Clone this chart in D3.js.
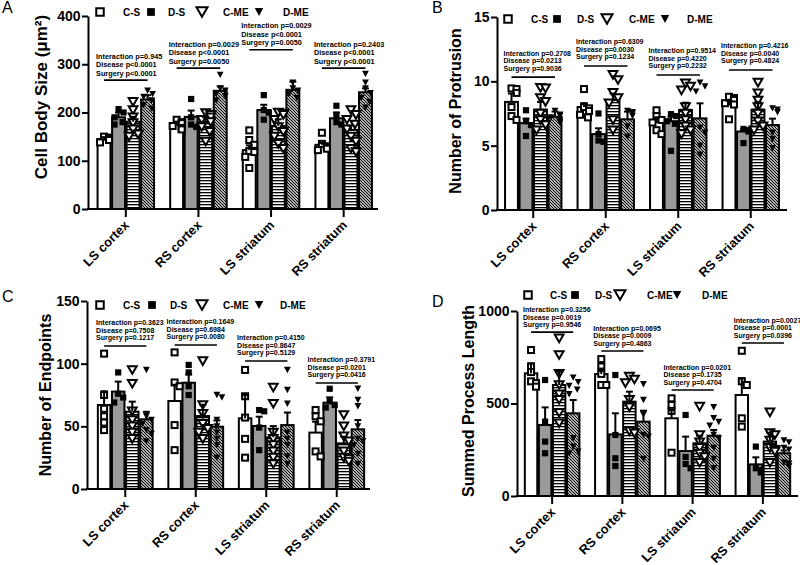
<!DOCTYPE html>
<html><head><meta charset="utf-8">
<script src="https://cdn.jsdelivr.net/npm/d3@7"></script>
<style>body{margin:0;background:#fff} svg{display:block} text{font-family:"Liberation Sans",Arial,sans-serif}</style>
</head><body><svg id="chart" width="800" height="565"></svg>
<script>
const categories = ["LS cortex","RS cortex","LS striatum","RS striatum"];
const groups = ["C-S","D-S","C-ME","D-ME"];

// Panel A: Cell Body Size
const cellBodyTicks = [0,100,200,300,400];
const cellBodyMean = [[145,190,181,227],[175,191,180,245],[122,205,172,247],[133,188,164,242]];
const cellBodySem  = [[4,10,10,9],[6,13,10,9],[10,11,14,17],[4,12,9,8]];
const cellBodyPts = [
  [[138,143,145,148,150],[207,200,190,180,175],[222,205,190,178,165,150,155],[245,238,232,225,215,208]],
  [[185,180,178,172,168,165],[228,190,175,170],[199,195,190,185,180,170,160,140],[278,250,245,238,225,234]],
  [[163,143,133,120,118,108,85],[236,205,200,185],[200,198,195,185,170,160,150,135,125],[262,250,245,238,230]],
  [[158,135,130,128,125,122],[214,195,180,175],[205,195,185,175,165,150,140,125,118],[280,262,250,240,230,222,210]]
];
const cellBodyStats = [["=0.945","<0.0001","<0.0001"],["=0.0029","<0.0001","=0.0050"],["=0.0029","<0.0001","=0.0050"],["=0.2403","<0.0001","<0.0001"]];

// Panel B: Number of Protrusion
const protrusionTicks = [0,5,10,15];
const protrusionMean = [[8.4,6.75,7.8,7.25],[8.0,5.9,8.55,7.05],[6.85,6.9,7.77,7.12],[8.2,6.1,7.8,6.6]];
const protrusionSem  = [[0.65,0.36,0.6,0.4],[0.31,0.45,0.5,0.6],[0.35,0.35,0.57,1.17],[0.3,0.15,0.6,0.5]];
const protrusionPts = [
  [[9.45,9.4,9.1,8.0,7.3,7.0],[7.75,6.9,6.6,5.75],[9.5,9.45,8.7,8.4,7.5,7.0,6.6,6.2],[7.7,7.4,7.3,7.2,7.0,6.8]],
  [[9.4,8.0,7.9,7.7,7.4,7.2],[7.5,5.9,5.4,5.3],[10.5,10.1,9.1,8.7,8.3,7.0,6.2],[7.7,7.6,7.5,7.3,6.5,5.7]],
  [[7.75,7.3,7.0,6.8,6.2,5.9],[7.45,7.3,6.9,6.7,4.6],[9.84,9.6,9.3,8.0,7.5,7.0,6.5,6.2,5.9],[9.9,9.6,9.2,6.4,6.0,5.0,4.3]],
  [[8.8,8.7,8.55,8.3,8.2,7.05],[6.3,6.2,6.1,5.2],[9.9,9.07,8.5,8.0,7.5,6.9,6.5,6.2],[7.9,7.8,7.6,6.0,5.5,4.8]]
];
const protrusionStats = [["=0.2708","=0.0213","=0.9036"],["=0.6309","=0.0030","=0.1234"],["=0.9514","=0.4220","=0.2232"],["=0.4216","=0.0040","=0.4824"]];

// Panel C: Number of Endpoints
const endpointsTicks = [0,50,100,150];
const endpointsMean = [[67,77.7,61.7,55.6],[70.2,84.8,58.2,49.7],[56.4,50.3,41.2,51],[45,68.9,36.4,47.6]];
const endpointsSem  = [[11,8,8,6],[13,6.7,9,5],[18.6,7.4,9,10],[8.7,4.2,5.3,7.4]];
const endpointsPts = [
  [[108,75,64,58,53,47],[93,76,73,69],[95,84,62,55,50,45,40],[95,58,55,52,47,44,38]],
  [[109,85,82,51,31],[99,93,82,75],[102,67,60,52,48,45,40],[75,73,55,50,45,40,35,25]],
  [[95,74,57,40,25],[63,62,49,31],[81,68,45,40,35,30,25,20],[95,79,68,45,40,35,26,20]],
  [[63,58,54,30,26],[80,70,67,65],[59,50,42,38,30,25,22,24],[80,71,66,50,40,35,28,20,38]]
];
const endpointsStats = [["=0.3623","=0.7508","=0.1217"],["=0.1649","=0.6984","=0.0080"],["=0.4150","=0.8647","=0.5129"],["=0.3791","=0.0201","=0.0416"]];

// Panel D: Summed Process Length
const processTicks = [0,500,1000];
const processMean = [[663,384,600,447],[659,333,510,402],[420,243,285,326],[546,171,294,231]];
const processSem  = [[54,95,72,72],[30,114,54,59],[45,78,41,31],[90,38,48,15]];
const processPts = [
  [[789,700,670,620,610,591],[627,402,294,231],[852,762,660,600,550,520,450,393],[640,615,595,575,550,312,266,240,230]],
  [[740,700,660,600,600],[654,330,204,162],[645,630,610,520,480,350,339],[604,519,440,330,320,200]],
  [[528,492,460,234],[438,211,173,150],[483,330,290,260,230,210,180],[480,420,400,380,330,310,260,200,150]],
  [[785,620,600,420,375],[267,150,140,127],[452,340,330,300,260,250,240,180],[300,290,260,250,180,160,175]]
];
const processStats = [["=0.3256","=0.0019","=0.9546"],["=0.0695","=0.0009","=0.4863"],["=0.0201","=0.1735","=0.4704"],["=0.0027","=0.0001","=0.0396"]];

const svg = d3.select("#chart");
svg.append("rect").attr("width",800).attr("height",565).attr("fill","#fff");
const defs = svg.append("defs");
const hs = defs.append("pattern").attr("id","hstripe").attr("patternUnits","userSpaceOnUse").attr("width",4).attr("height",3);
hs.append("rect").attr("width",4).attr("height",3).attr("fill","#fff");
hs.append("rect").attr("width",4).attr("height",1.3).attr("fill","#000");
const dh = defs.append("pattern").attr("id","dhatch").attr("patternUnits","userSpaceOnUse").attr("width",3).attr("height",3);
dh.append("rect").attr("width",3).attr("height",3).attr("fill","#fff");
dh.append("path").attr("d","M0,0L3,3M-1,2L1,4M2,-1L4,1").attr("stroke","#000").attr("stroke-width",1.2);

const barFill = ["#fff","#9a9a9a","url(#hstripe)","url(#dhatch)"];

function marker(sel, gi, big){
  const k = big ? 1.25 : 1;
  if (gi===0) {
    const h = 3.0*k;
    sel.append("rect").attr("x",-h).attr("y",-h).attr("width",2*h).attr("height",2*h)
      .attr("fill","#fff").attr("stroke","#000").attr("stroke-width",2);
  } else if (gi===1) {
    const h = 3.1*k;
    sel.append("rect").attr("x",-h).attr("y",-h).attr("width",2*h).attr("height",2*h).attr("fill","#000");
  } else if (gi===2) {
    const w = 4.4*k, h = 3.8*k;
    sel.append("path").attr("d",`M${-w},${-h}L${w},${-h}L0,${h}Z`)
      .attr("fill","#fff").attr("stroke","#000").attr("stroke-width",2).attr("stroke-linejoin","miter");
  } else {
    const w = 3.4*k, h = 3.2*k;
    sel.append("path").attr("d",`M${-w},${-h}L${w},${-h}L0,${h}Z`).attr("fill","#000");
  }
}

const panels = [
 {letter:"A", lp:[2,13], x0:88, x1:378, band:[89.5,380], y0:209, yTop:16, max:400, ticks:cellBodyTicks,
  mean:cellBodyMean, sem:cellBodySem, pts:cellBodyPts, stats:cellBodyStats, title:"Cell Body Size (μm²)", tFont:17,
  tp:[41,97], legY:12, legSym:[12,63,114,171], legTxt:[35,80,135,195], sigY:[267,292,330,292], aFont:7.3, aLH:8.5, aBase:-7},
 {letter:"B", lp:[432,13], x0:497, x1:787, band:[497,787], y0:210, yTop:17, max:15, ticks:protrusionTicks,
  mean:protrusionMean, sem:protrusionSem, pts:protrusionPts, stats:protrusionStats, title:"Number of Protrusion", tFont:16,
  tp:[455,111], legY:19, legSym:[11,60,110,168], legTxt:[34,80,132,190], sigY:[10.33,11.19,10.49,10.88], aFont:7, aLH:7.5, aBase:-9},
 {letter:"C", lp:[2,302], x0:87, x1:370, band:[90,372], y0:489, yTop:301, max:150, ticks:endpointsTicks,
  mean:endpointsMean, sem:endpointsSem, pts:endpointsPts, stats:endpointsStats, title:"Number of Endpoints", tFont:16,
  tp:[45,395], legY:305, legSym:[13,65,115,172], legTxt:[36,83,136,193], sigY:[114.1,114.9,102.1,84.6], aFont:7, aLH:7.3, aBase:-8.5},
 {letter:"D", lp:[432,307], x0:517, x1:798, band:[517,798], y0:496, yTop:311, max:1000, ticks:processTicks,
  mean:processMean, sem:processSem, pts:processPts, stats:processStats, title:"Summed Process Length", tFont:16,
  tp:[468,401], legY:295, legSym:[11,58,103,160], legTxt:[33,78,130,185], sigY:[886,784,573,827], aFont:7, aLH:7.5, aBase:-7.5}
];

panels.forEach(cfg => {
  const g = svg.append("g");
  const y = d3.scaleLinear().domain([0,cfg.max]).range([cfg.y0,cfg.yTop]);
  const xb = d3.scaleBand().domain(categories).range(cfg.band);
  const bw = xb.bandwidth();
  const xi = d3.scaleBand().domain(groups).range([-0.4*bw,0.4*bw]);
  const pitch = xi.bandwidth();
  const barCx = (ci,gi) => xb(categories[ci]) + bw/2 + xi(groups[gi]) + pitch/2;

  g.append("text").attr("x",cfg.lp[0]).attr("y",cfg.lp[1]).attr("font-size",16).text(cfg.letter);

  const rows = [];
  categories.forEach((c,ci)=>groups.forEach((gr,gi)=>rows.push({ci,gi,mean:cfg.mean[ci][gi],sem:cfg.sem[ci][gi],pts:cfg.pts[ci][gi]})));
  g.selectAll("rect.bar").data(rows).join("rect").attr("class","bar")
    .attr("x",d=>barCx(d.ci,d.gi)-(pitch-1.6)/2).attr("width",pitch-1.6)
    .attr("y",d=>y(d.mean)).attr("height",d=>y(0)-y(d.mean))
    .attr("fill",d=>barFill[d.gi]).attr("stroke","#000").attr("stroke-width",2);

  rows.forEach(d=>{
    const cx = barCx(d.ci,d.gi);
    const placed = [];
    const offs = [0,-4,4,-2,2,-5,5];
    [...d.pts].sort((a,b)=>b-a).forEach(v=>{
      const py = y(v);
      let best = offs[0];
      for (const o of offs){
        if (!placed.some(p=>Math.abs(p.o-o)<5.5 && Math.abs(p.y-py)<5.5)){ best=o; break; }
        best = o;
      }
      placed.push({o:best,y:py});
      marker(g.append("g").attr("transform",`translate(${cx+best},${py})`), d.gi, false);
    });
  });

  rows.forEach(d=>{
    const cx = barCx(d.ci,d.gi);
    const top = y(d.mean+d.sem);
    g.append("line").attr("x1",cx).attr("x2",cx).attr("y1",y(d.mean)).attr("y2",top).attr("stroke","#000").attr("stroke-width",2);
    g.append("line").attr("x1",cx-3.5).attr("x2",cx+3.5).attr("y1",top).attr("y2",top).attr("stroke","#000").attr("stroke-width",2);
  });

  const ya = g.append("g").attr("transform",`translate(${cfg.x0},0)`)
    .call(d3.axisLeft(y).tickValues(cfg.ticks).tickFormat(d3.format("d")).tickSize(6).tickSizeOuter(0).tickPadding(1.5));
  ya.select(".domain").attr("stroke-width",2);
  ya.selectAll(".tick line").attr("stroke-width",2);
  ya.selectAll(".tick text").attr("font-size",14).attr("font-weight","bold").attr("fill","#000")
    .attr("font-family",'"Liberation Sans",Arial,sans-serif');

  g.append("line").attr("x1",cfg.x0-1).attr("x2",cfg.x1).attr("y1",cfg.y0).attr("y2",cfg.y0).attr("stroke","#000").attr("stroke-width",2);
  const xa = g.append("g").attr("transform",`translate(0,${cfg.y0})`)
    .call(d3.axisBottom(xb).tickSize(8).tickSizeOuter(0));
  xa.select(".domain").remove();
  xa.selectAll(".tick line").attr("stroke-width",2);
  xa.selectAll(".tick text").attr("font-size",12.8).attr("font-weight","bold").attr("fill","#000")
    .attr("font-family",'"Liberation Sans",Arial,sans-serif')
    .attr("text-anchor","end").attr("y",0).attr("dy",0)
    .attr("transform","translate(4,17) rotate(-45)");

  g.append("text").attr("transform",`translate(${cfg.tp[0]},${cfg.tp[1]}) rotate(-90)`)
    .attr("text-anchor","middle").attr("dy","0.35em").attr("font-size",cfg.tFont).attr("font-weight","bold").text(cfg.title);

  groups.forEach((gr,gi)=>{
    marker(g.append("g").attr("transform",`translate(${cfg.x0+cfg.legSym[gi]},${cfg.legY})`), gi, true);
    g.append("text").attr("x",cfg.x0+cfg.legTxt[gi]).attr("y",cfg.legY).attr("dy","0.35em")
      .attr("font-size",10).attr("font-weight","bold").text(gr);
  });

  const labels = ["Interaction p","Disease p","Surgery p"];
  categories.forEach((c,ci)=>{
    const ly = y(cfg.sigY[ci]);
    const xs = barCx(ci,0), xe = barCx(ci,3);
    g.append("line").attr("x1",xs).attr("x2",xe).attr("y1",ly).attr("y2",ly).attr("stroke","#000").attr("stroke-width",1.6);
    labels.forEach((lab,k)=>{
      g.append("text").attr("x",xs-8).attr("y",ly+cfg.aBase-(2-k)*cfg.aLH).attr("dy","0.35em")
        .attr("font-size",cfg.aFont).attr("font-weight","bold").attr("fill","#000").text(lab+cfg.stats[ci][k]);
    });
  });
});
</script></body></html>
